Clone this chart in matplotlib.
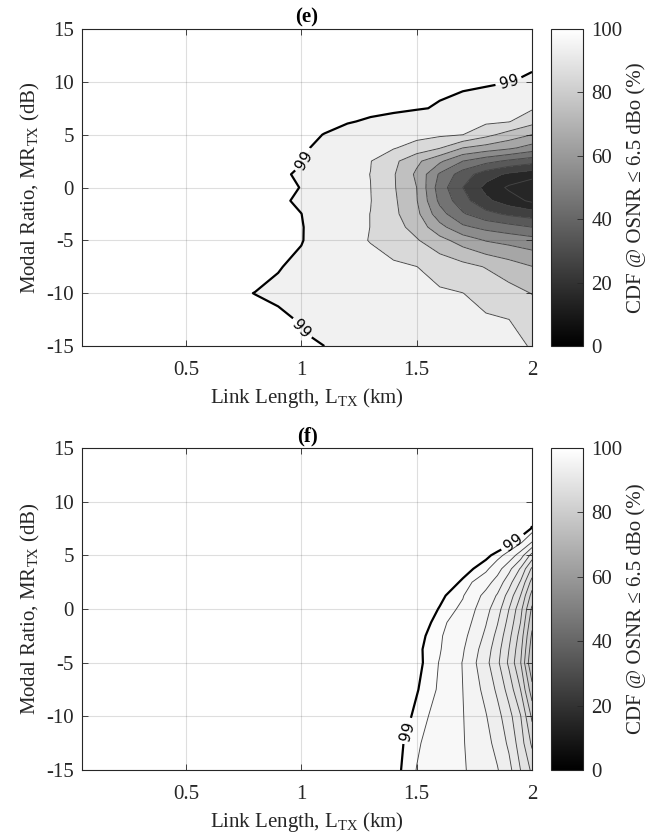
import numpy as np
import matplotlib
matplotlib.use("Agg")
from matplotlib import pyplot as plt
from matplotlib import cm, colors

plt.rcParams['font.family'] = ['Liberation Serif', 'DejaVu Serif']
plt.rcParams['mathtext.fontset'] = 'custom'
plt.rcParams['mathtext.rm'] = 'Liberation Serif'
plt.rcParams['mathtext.it'] = 'Liberation Serif:italic'
plt.rcParams['mathtext.bf'] = 'Liberation Serif:bold'
plt.rcParams['font.size'] = 15

# ---- panel (e): CDF (%) on a (modal ratio x link length) grid
length_e = [0.05, 0.6, 0.8, 0.9, 1.0, 1.1, 1.2, 1.3, 1.4, 1.5, 1.6, 1.7, 1.8, 1.9, 2.0]
mr_e = [-15, -12.5, -10, -7.5, -5, -3.75, -2.5, -1.25, 0, 1.25, 2.5, 3.75, 5, 6.25, 7.5, 10, 12.5, 15]
cdf_e = [
    [100, 100, 100, 100, 99.6, 99.0, 98.0, 96.9, 95.9, 94.9, 93.9, 92.9, 91.8, 90.8, 89.8],
    [100, 100, 100, 100, 98.6, 97.6, 96.7, 95.7, 94.7, 93.8, 92.9, 91.9, 91.0, 90.05, 86.0],
    [100, 100, 98.95, 98.0, 97.0, 96.0, 95.0, 94.1, 93.1, 92.1, 91.1, 90.1, 87.0, 83.5, 79.7],
    [100, 100, 100, 99.3, 97.8, 96.2, 94.7, 93.1, 91.6, 90.1, 86.5, 83.2, 79.5, 74.9, 70.3],
    [100, 100, 100, 100, 99.3, 96.1, 92.9, 89.6, 85.2, 80.9, 73.3, 65.7, 59.4, 56.7, 54.0],
    [100, 100, 100, 100, 99.3, 96.4, 93.2, 89.9, 83.9, 76.3, 63.3, 52.0, 47.1, 43.6, 40.0],
    [100, 100, 100, 100, 99.05, 96.0, 93.0, 89.9, 82.3, 72.6, 54.0, 41.1, 33.1, 28.1, 25.0],
    [100, 100, 100, 100, 98.1, 95.5, 92.9, 90.3, 81.8, 70.6, 47.7, 33.8, 22.2, 14.7, 8.0],
    [100, 100, 100, 100, 98.9, 96.0, 93.1, 90.1, 81.0, 70.0, 45.0, 30.0, 17.0, 8.4, 3.0],
    [100, 100, 100, 100, 98.2, 95.5, 92.7, 89.9, 80.9, 68.2, 48.6, 35.0, 24.5, 18.0, 14.0],
    [100, 100, 100, 100, 99.3, 96.6, 93.5, 90.3, 82.5, 72.2, 62.0, 50.0, 43.3, 38.0, 34.0],
    [100, 100, 100, 100, 99.6, 98.0, 95.6, 93.2, 90.7, 86.1, 80.6, 70.0, 66.0, 62.0, 56.0],
    [100, 100, 100, 100, 100, 98.9, 97.4, 96.0, 94.5, 93.0, 91.6, 90.1, 83.0, 76.0, 70.0],
    [100, 100, 100, 100, 100, 100, 99.3, 98.5, 97.2, 95.9, 94.5, 93.2, 91.8, 90.5, 83.5],
    [100, 100, 100, 100, 100, 100, 100, 100, 100, 99.4, 98.6, 97.2, 95.5, 93.5, 91.0],
    [100, 100, 100, 100, 100, 100, 100, 100, 100, 100, 100, 100, 99.8, 99.1, 98.4],
    [100, 100, 100, 100, 100, 100, 100, 100, 100, 100, 100, 100, 100, 100, 100],
    [100, 100, 100, 100, 100, 100, 100, 100, 100, 100, 100, 100, 100, 100, 100],
]

# ---- panel (f)
length_f = [0.05, 1.0, 1.3, 1.4, 1.5, 1.6, 1.7, 1.8, 1.85, 1.9, 1.95, 2.0]
mr_f = [-15, -12.5, -10, -7.5, -5, -3.75, -2.5, -1.25, 0, 1.25, 2.5, 3.75, 5, 6.25, 7.5, 10, 12.5, 15]
cdf_f = [
    [100, 100, 100, 99.5, 97.96, 97.08, 96.2, 94.88, 94.12, 92.64, 90.0, 87.6],
    [100, 100, 100, 99.6, 98.2, 97.12, 96.12, 94.6, 93.4, 91.6, 89.0, 85.6],
    [100, 100, 100, 100, 98.7, 97.32, 96.08, 94.12, 92.68, 90.72, 88.12, 83.6],
    [100, 100, 100, 100, 99.1, 97.8, 96.0, 93.4, 91.6, 89.2, 86.0, 80.8],
    [100, 100, 100, 100, 99.4, 97.92, 95.92, 92.6, 90.44, 87.6, 84.12, 78.0],
    [100, 100, 100, 100, 99.3, 98.12, 96.2, 93.0, 90.8, 88.0, 84.6, 78.8],
    [100, 100, 100, 100, 99.5, 98.2, 96.6, 93.6, 91.4, 88.6, 85.2, 79.6],
    [100, 100, 100, 100, 100, 98.4, 97.12, 94.12, 92.12, 89.32, 86.0, 80.6],
    [100, 100, 100, 100, 100, 98.92, 97.64, 94.64, 92.88, 90.0, 86.68, 81.6],
    [100, 100, 100, 100, 100, 99.3, 98.12, 95.4, 93.8, 91.2, 88.0, 83.2],
    [100, 100, 100, 100, 100, 100, 98.8, 96.8, 95.2, 92.8, 89.8, 85.2],
    [100, 100, 100, 100, 100, 100, 99.5, 98.4, 96.8, 94.6, 91.8, 87.6],
    [100, 100, 100, 100, 100, 100, 100, 99.3, 98.62, 97.28, 95.0, 91.2],
    [100, 100, 100, 100, 100, 100, 100, 100, 100, 99.6, 98.38, 96.0],
    [100, 100, 100, 100, 100, 100, 100, 100, 100, 100, 100, 98.9],
    [100, 100, 100, 100, 100, 100, 100, 100, 100, 100, 100, 100],
    [100, 100, 100, 100, 100, 100, 100, 100, 100, 100, 100, 100],
    [100, 100, 100, 100, 100, 100, 100, 100, 100, 100, 100, 100],
]

levels_e = [0, 10, 20, 30, 40, 50, 60, 70, 80, 90, 99, 100.5]
levels_f = [0, 76, 78, 80, 82, 84, 86, 88, 90, 92, 94, 96, 98, 99, 100.5]

x_ticks = [0.5, 1, 1.5, 2]
x_ticklabels = ["0.5", "1", "1.5", "2"]
y_ticks = [-15, -10, -5, 0, 5, 10, 15]
y_ticklabels = ["-15", "-10", "-5", "0", "5", "10", "15"]
cbar_ticks = [0, 20, 40, 60, 80, 100]

label_pos_e = [(1.03, 2.4), (1.0, -13.4), (1.9, 9.9)]
label_pos_f = [(1.92, 6.1), (1.45, -11.3)]

AX_COLOR = (0.15, 0.15, 0.15)


def band_colors(levels):
    # fill shade of each band; the lowest band is not pushed to pure black
    out = []
    for lo, hi in zip(levels[:-1], levels[1:]):
        v = 0.5 * (lo + hi) if lo > 0 else max(hi - 7, 0) + 12
        out.append(plt.cm.gray(min(v, 100) / 100))
    return out


def draw_panel(fig, rect, cbrect, x, y, z, levels, title, label_pos):
    ax = fig.add_axes(rect)
    X, Y = np.meshgrid(x, y)
    Z = np.array(z)
    norm = colors.Normalize(0, 100)
    ax.contourf(X, Y, Z, levels=levels, colors=band_colors(levels))
    thin = [l for l in levels if 0 < l < 99]
    ax.contour(X, Y, Z, levels=thin, colors=[(0.27, 0.27, 0.27)], linewidths=0.65)
    cs = ax.contour(X, Y, Z, levels=[99], colors="black", linewidths=1.6)
    texts = ax.clabel(cs, fmt="%d", manual=label_pos, fontsize=11, inline=True,
                      inline_spacing=6, colors="black")
    for t in texts:
        t.set_family(["DejaVu Sans"])
    ax.set_xlim(0.05, 2)
    ax.set_ylim(-15, 15)
    ax.set_xticks(x_ticks)
    ax.set_xticklabels(x_ticklabels)
    ax.set_yticks(y_ticks)
    ax.set_yticklabels(y_ticklabels)
    ax.grid(True, color=AX_COLOR, alpha=0.15, linewidth=0.8)
    ax.set_axisbelow(False)
    ax.tick_params(direction="in", top=True, right=True, length=4, width=0.6,
                   color=AX_COLOR, labelcolor=AX_COLOR)
    ax.tick_params(axis="x", pad=11)
    ax.tick_params(axis="y", pad=6)
    for s in ax.spines.values():
        s.set_color(AX_COLOR)
        s.set_linewidth(0.8)
    ax.set_xlabel(r"Link Length, L$_{\mathrm{TX}}$ (km)", color=AX_COLOR, labelpad=4)
    ax.set_ylabel(r"Modal Ratio, MR$_{\mathrm{TX}}$ (dB)", color=AX_COLOR, labelpad=3)
    ax.set_title(title, fontweight="bold", fontsize=15, pad=5, color="black")

    cax = fig.add_axes(cbrect)
    sm = cm.ScalarMappable(norm=norm, cmap="gray")
    cb = fig.colorbar(sm, cax=cax, ticks=cbar_ticks)
    cb.outline.set_edgecolor(AX_COLOR)
    cb.outline.set_linewidth(0.8)
    cax.tick_params(direction="in", length=4, width=0.6, color=AX_COLOR,
                    labelcolor=AX_COLOR, pad=6)
    cb.set_label("CDF @ OSNR ≤ 6.5 dBo (%)", color=AX_COLOR, labelpad=3)
    return ax


fig = plt.figure(figsize=(6.62, 8.36), dpi=100)
draw_panel(fig, [0.1239, 0.5861, 0.6798, 0.3792], [0.8323, 0.5861, 0.0483, 0.3792],
           length_e, mr_e, cdf_e, levels_e, "(e)", label_pos_e)
draw_panel(fig, [0.1239, 0.0789, 0.6798, 0.3852], [0.8323, 0.0789, 0.0483, 0.3852],
           length_f, mr_f, cdf_f, levels_f, "(f)", label_pos_f)
fig.savefig("out.png", dpi=100)
